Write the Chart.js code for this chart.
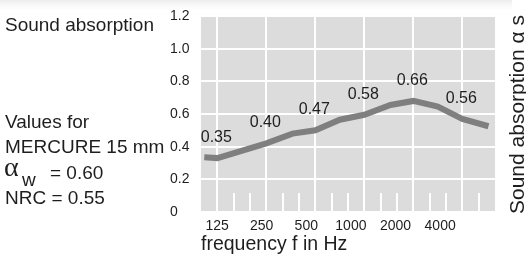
<!DOCTYPE html>
<html>
<head>
<meta charset="utf-8">
<script src="https://cdn.jsdelivr.net/npm/chart.js@4.4.1/dist/chart.umd.min.js"></script>
<style>
  html, body { margin: 0; padding: 0; background: #fff; }
  canvas { display: block; }
</style>
</head>
<body>
<canvas id="c" width="526" height="256"></canvas>
<script>
// third-octave band index: 0 = 100 Hz, 1 = 125 Hz ... 18 = 6300 Hz
const freqLabels = ['125', '250', '500', '1000', '2000', '4000'];
const octaveBands = [1, 4, 7, 10, 13, 16];
const octaveValues = [0.35, 0.40, 0.47, 0.58, 0.66, 0.56];

const curveBands = [0.2, 1, 4, 5.6, 7, 8.5, 10, 11.6, 13, 14.5, 16, 17.6];
const curveValues = [0.335, 0.33, 0.42, 0.48, 0.50, 0.565, 0.595, 0.655, 0.68, 0.645, 0.57, 0.525];

const yTicks = [0, 0.2, 0.4, 0.6, 0.8, 1.0, 1.2];

const txt = '#1e1e1e';
const sans = '"Liberation Sans", Arial, sans-serif';

const decor = {
  id: 'decor',
  beforeDraw(chart) {
    const { ctx, chartArea: a } = chart;
    ctx.save();
    ctx.fillStyle = '#fff';
    ctx.fillRect(0, 0, chart.width, chart.height);
    const g = ctx.createLinearGradient(0, 0, 0, 13);
    g.addColorStop(0, '#ececec');
    g.addColorStop(1, 'rgba(255,255,255,0)');
    ctx.fillStyle = g;
    ctx.fillRect(0, 0, 512, 13);
    ctx.fillStyle = '#dcdcdc';
    ctx.fillRect(a.left, a.top, a.right - a.left, a.bottom - a.top);
    ctx.restore();
  },
  beforeDatasetsDraw(chart) {
    // short third-octave ticks along the bottom of the plot
    const { ctx, chartArea: a, scales } = chart;
    ctx.save();
    ctx.strokeStyle = '#fff';
    ctx.lineWidth = 2;
    for (let i = 1; i < 18; i++) {
      if (i % 3 === 1) continue;
      const x = Math.round(scales.x.getPixelForValue(i));
      ctx.beginPath();
      ctx.moveTo(x, a.bottom);
      ctx.lineTo(x, a.bottom - 19);
      ctx.stroke();
    }
    ctx.restore();
  },
  afterDraw(chart) {
    const { ctx } = chart;
    ctx.save();
    ctx.fillStyle = txt;
    ctx.textBaseline = 'alphabetic';

    // values above the curve
    const meta = chart.getDatasetMeta(0);
    ctx.font = '16px ' + sans;
    ctx.textAlign = 'center';
    octaveBands.forEach((b, i) => {
      const k = curveBands.indexOf(b);
      const pt = meta.data[k];
      ctx.fillText(octaveValues[i].toFixed(2), pt.x - 1, pt.y - 16);
    });

    ctx.textAlign = 'left';
    ctx.font = '19px ' + sans;
    ctx.fillText('Sound absorption', 5, 31);
    ctx.fillText('Values for', 5, 128);
    ctx.fillText('MERCURE 15 mm', 5, 153);
    ctx.fillText('= 0.60', 50, 179);
    ctx.fillText('NRC = 0.55', 5, 204);
    ctx.fillText('w', 22, 186);
    ctx.font = '28px "Liberation Serif", serif';
    ctx.fillText('\u03b1', 4, 176);

    ctx.translate(524, 214);
    ctx.rotate(-Math.PI / 2);
    ctx.font = '21px ' + sans;
    ctx.fillText('Sound absorption \u03b1 s', 0, 0);
    ctx.restore();
  }
};

new Chart(document.getElementById('c'), {
  type: 'line',
  data: {
    datasets: [{
      data: curveBands.map((b, i) => ({ x: b, y: curveValues[i] })),
      borderColor: '#7f7f7f',
      borderWidth: 6,
      pointRadius: 0,
      tension: 0,
      fill: false
    }]
  },
  options: {
    responsive: false,
    animation: false,
    devicePixelRatio: 1,
    layout: { padding: { left: 170, right: 31, top: 16, bottom: 0 } },
    plugins: { legend: { display: false }, tooltip: { enabled: false } },
    scales: {
      x: {
        type: 'linear',
        position: 'bottom',
        min: 0,
        max: 18,
        afterBuildTicks: s => { s.ticks = []; for (let i = 0; i <= 18; i++) s.ticks.push({ value: i }); },
        afterFit: s => { s.height = 0; },
        ticks: { display: false },
        border: { display: false },
        grid: {
          drawTicks: false,
          lineWidth: 2,
          color: c => (c.tick && c.tick.value % 3 === 1) ? '#fff' : 'rgba(0,0,0,0)'
        }
      },
      x2: {
        type: 'linear',
        position: 'bottom',
        min: -0.36,
        max: 6.23,
        afterBuildTicks: s => { s.ticks = freqLabels.map((_, i) => ({ value: i })); },
        afterFit: s => { s.height = 44; },
        ticks: {
          callback: v => freqLabels[v],
          font: { family: sans, size: 14 },
          color: txt,
          padding: 6,
          maxRotation: 0,
          autoSkip: false
        },
        border: { display: false },
        grid: { display: false, drawTicks: false },
        title: {
          display: true,
          text: 'frequency f in Hz',
          align: 'start',
          color: txt,
          font: { family: sans, size: 19.5 },
          padding: 0
        }
      },
      y: {
        min: 0,
        max: 1.2,
        afterBuildTicks: s => { s.ticks = yTicks.map(v => ({ value: v })); },
        afterFit: s => { s.width = 31; },
        ticks: {
          callback: v => v === 0 ? '0' : v.toFixed(1),
          font: { family: sans, size: 14 },
          color: txt,
          crossAlign: 'far',
          padding: 0
        },
        border: { display: false },
        grid: { drawTicks: false, lineWidth: 2, color: '#fff' }
      }
    }
  },
  plugins: [decor]
});
</script>
</body>
</html>
